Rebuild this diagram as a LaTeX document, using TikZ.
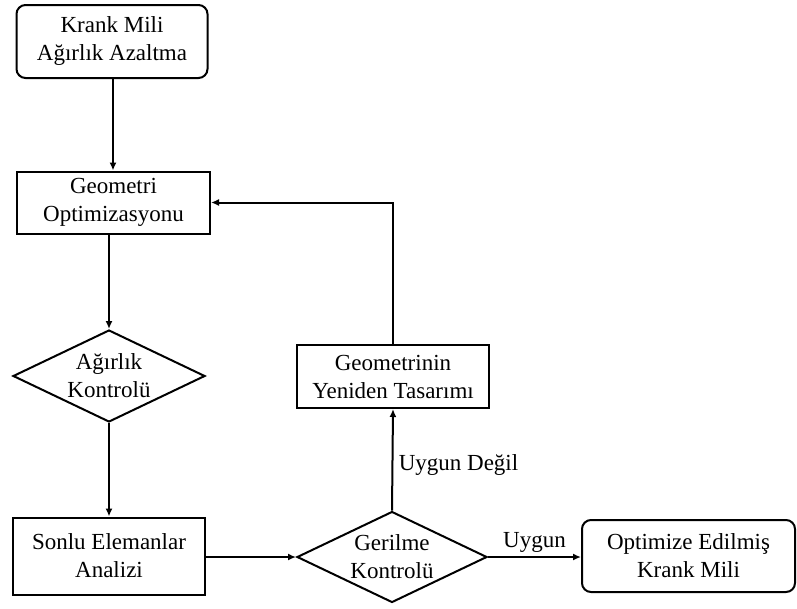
\documentclass[tikz,border=0pt]{standalone}
\usepackage{fontspec}
\setmainfont{Liberation Serif}
\usetikzlibrary{shapes.geometric,arrows.meta}

\begin{document}
\begin{tikzpicture}[
    x=1pt, y=-1pt,
    every node/.style={align=center,font=\fontsize{23}{28}\selectfont,line width=2pt},
    terminal/.style={draw,rounded corners=9pt,minimum height=73pt},
    process/.style={draw,minimum width=193pt,minimum height=62pt},
    decision/.style={draw,diamond,aspect=2.1,minimum width=192pt,minimum height=92pt,inner sep=0pt},
    flow/.style={line width=2pt,-{Latex[length=8pt,width=7pt]}}
]
\useasboundingbox (0,0) rectangle (797,608);
\node[terminal,minimum width=191pt] (start) at (112,41.5) {Krank Mili\\ Ağırlık Azaltma};
\node[process] (geometri) at (113.5,202.5) {Geometri\\ Optimizasyonu};
\node[decision] (weight) at (109,376) {Ağırlık\\ Kontrolü};
\node[process,minimum width=192pt,minimum height=77pt] (fea) at (109,556) {Sonlu Elemanlar\\ Analizi};
\node[decision,minimum width=190pt,minimum height=91pt] (stress) at (392,557) {Gerilme\\ Kontrolü};
\node[process,minimum width=192pt,minimum height=63pt] (redesign) at (393,376.5) {Geometrinin\\ Yeniden Tasarımı};
\node[terminal,minimum width=213pt,minimum height=72pt] (final) at (688.5,556) {Optimize Edilmiş\\ Krank Mili};

\draw[flow] (start.south -| 113,0) -- (geometri.north -| 113,0);
\draw[flow] (geometri.south -| weight.north) -- (weight.north);
\draw[flow] (weight.south) -- (fea.north);
\draw[flow] (fea.east |- stress.west) -- (stress.west);
\draw[flow] (stress.east) -- (final.west |- stress.east)
    node[midway,above] (ok) {Uygun};
\draw[flow] (stress.north) -- (redesign.south)
    node[pos=0.45,right=2pt] (notok) {Uygun Değil};
\draw[flow] (redesign.north) |- (geometri.east);
\end{tikzpicture}
\end{document}
